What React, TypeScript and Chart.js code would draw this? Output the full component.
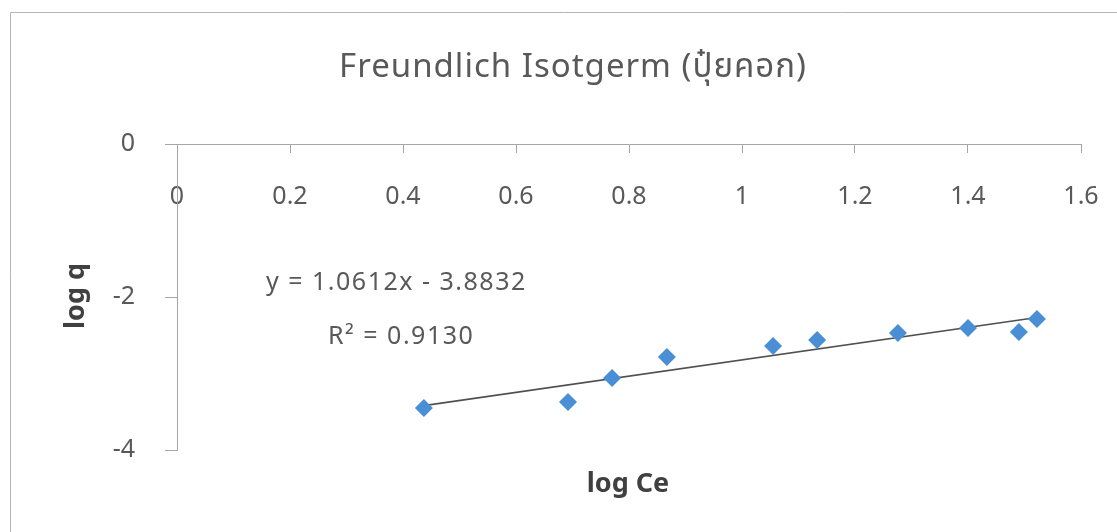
import { useEffect, useRef } from "react";
import { Chart, registerables } from "chart.js";

Chart.register(...registerables);

// Measured adsorption data (log Ce vs log q)
const logCe = [0.437, 0.692, 0.77, 0.867, 1.055, 1.133, 1.276, 1.4, 1.49, 1.522];
const logQ = [-3.451, -3.373, -3.059, -2.784, -2.641, -2.562, -2.471, -2.405, -2.458, -2.288];

// Linear trendline reported on the chart
const slope = 1.0612;
const intercept = -3.8832;
const rSquared = "0.9130";

const xTicks = [0, 0.2, 0.4, 0.6, 0.8, 1, 1.2, 1.4, 1.6];
const yTicks = [0, -2, -4];

const chartTitle = "Freundlich Isotgerm (ปุ๋ยคอก)";
const xTitle = "log Ce";
const yTitle = "log q";

const FONT = "'Noto Sans', 'Noto Sans Thai', 'Open Sans', sans-serif";
const TEXT = "#595959";
const AXIS = "#a6a6a6";

export default function App() {
  const ref = useRef<HTMLCanvasElement | null>(null);

  useEffect(() => {
    if (!ref.current) return;
    const xMin = Math.min(...logCe);
    const xMax = Math.max(...logCe);
    const trend = [
      { x: xMin, y: slope * xMin + intercept },
      { x: xMax, y: slope * xMax + intercept },
    ];

    const textPlugin = {
      id: "chartText",
      beforeDraw(chart: any) {
        const { ctx } = chart;
        ctx.save();
        ctx.strokeStyle = "#b5b5b5";
        ctx.lineWidth = 1;
        ctx.beginPath();
        ctx.moveTo(10.5, 532);
        ctx.lineTo(10.5, 12.5);
        ctx.lineTo(1117, 12.5);
        ctx.stroke();
        ctx.restore();
      },
      afterDraw(chart: any) {
        const { ctx } = chart;
        ctx.save();
        ctx.fillStyle = TEXT;
        ctx.textAlign = "center";
        ctx.textBaseline = "middle";
        ctx.font = `33px ${FONT}`;
        (ctx as any).letterSpacing = "1px";
        ctx.fillText(chartTitle, 573, 68);
        (ctx as any).letterSpacing = "0px";

        ctx.fillStyle = "#404040";
        ctx.font = `bold 27px ${FONT}`;
        ctx.fillText(xTitle, 628, 484);
        ctx.translate(76, 296);
        ctx.rotate(-Math.PI / 2);
        ctx.fillText(yTitle, 0, 0);
        ctx.restore();

        ctx.save();
        ctx.fillStyle = TEXT;
        ctx.textAlign = "left";
        ctx.textBaseline = "middle";
        ctx.font = `25px ${FONT}`;
        (ctx as any).letterSpacing = "1.5px";
        const sign = intercept < 0 ? "-" : "+";
        ctx.fillText(`y = ${slope.toFixed(4)}x ${sign} ${Math.abs(intercept).toFixed(4)}`, 266, 283);
        ctx.fillText(`R² = ${rSquared}`, 328, 337);
        ctx.restore();
      },
    };

    const chart = new Chart(ref.current, {
      type: "scatter",
      data: {
        datasets: [
          {
            label: "log q",
            data: logCe.map((x, i) => ({ x, y: logQ[i] })),
            pointStyle: "rectRot",
            pointRadius: 9,
            pointHoverRadius: 9,
            backgroundColor: "#4a8fd6",
            borderColor: "#4a8fd6",
            borderWidth: 0,
            order: 1,
          },
          {
            type: "line",
            label: "Linear",
            data: trend,
            borderColor: "#505050",
            borderWidth: 1.6,
            pointRadius: 0,
            showLine: true,
            fill: false,
            order: 2,
          } as any,
        ],
      },
      options: {
        responsive: false,
        animation: false,
        layout: { padding: { top: 144, bottom: 82, left: 0, right: 36 } },
        plugins: {
          legend: { display: false },
          tooltip: { enabled: false },
          title: { display: false },
        },
        scales: {
          x: {
            type: "linear",
            position: { y: 0 } as any,
            min: 0,
            max: 1.6,
            afterBuildTicks: (s: any) => {
              s.ticks = xTicks.map((v) => ({ value: v }));
            },
            afterFit: (s: any) => {
              s.paddingLeft = 0;
              s.paddingRight = 0;
            },
            ticks: {
              color: TEXT,
              font: { family: FONT, size: 25 },
              padding: 30,
              callback: (v: any) => String(Math.round(Number(v) * 10) / 10),
            },
            grid: { drawOnChartArea: false, drawTicks: true, tickLength: 8, color: AXIS },
            border: { display: true, color: AXIS, width: 1 },
          },
          y: {
            type: "linear",
            position: "left",
            min: -4,
            max: 0,
            afterBuildTicks: (s: any) => {
              s.ticks = yTicks.map((v) => ({ value: v }));
            },
            afterFit: (s: any) => {
              s.width = 177;
              s.paddingTop = 0;
              s.paddingBottom = 0;
            },
            ticks: {
              color: TEXT,
              font: { family: FONT, size: 25 },
              padding: 30,
              callback: (v: any) => String(v),
            },
            grid: { drawOnChartArea: false, drawTicks: true, tickLength: 12, color: AXIS },
            border: { display: true, color: AXIS, width: 1 },
          },
        },
      },
      plugins: [textPlugin],
    });
    return () => chart.destroy();
  }, []);

  return (
    <div style={{ position: "absolute", left: 0, top: 0, width: 1117, height: 532, background: "#fff" }}>
      <canvas ref={ref} width={1117} height={532} />
    </div>
  );
}
